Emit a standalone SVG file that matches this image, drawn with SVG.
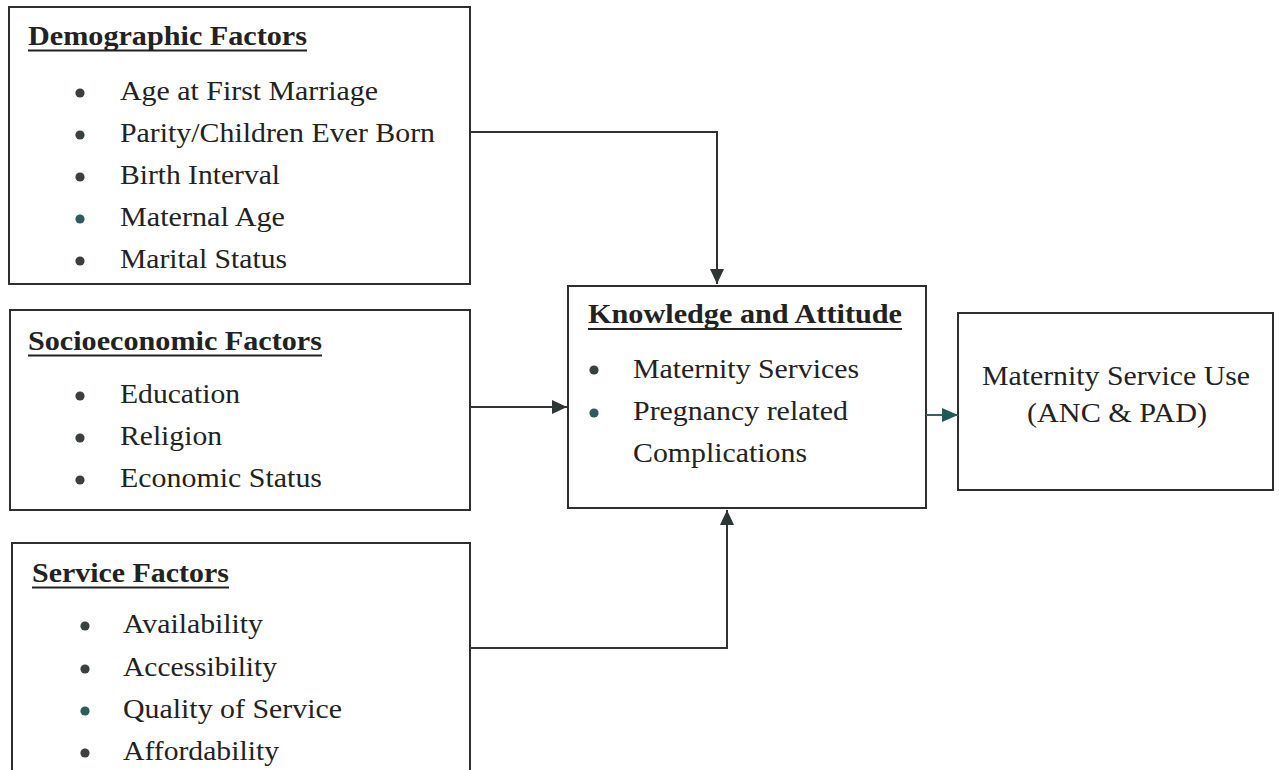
<svg xmlns="http://www.w3.org/2000/svg" width="1279" height="770" viewBox="0 0 1279 770">
<style>
.box{fill:#fff;stroke:#2e2e2e;stroke-width:2}
.t{font-family:"Liberation Serif","Times New Roman",serif;font-size:27px;fill:#222}
.h{font-family:"Liberation Serif","Times New Roman",serif;font-size:27px;font-weight:bold;fill:#222}
.ul{stroke:#222;stroke-width:2}
.b{fill:#3a3f40}
.bt{fill:#2c5c5c}
.c{fill:none;stroke:#333;stroke-width:2}
.ct{fill:none;stroke:#2c6363;stroke-width:2}
</style>
<defs>
<marker id="ah" markerUnits="userSpaceOnUse" markerWidth="15" markerHeight="14" viewBox="0 0 15 14" refX="15" refY="7" orient="auto">
<path d="M0,0 L15,7 L0,14 z" fill="#2e3535"/>
</marker>
<marker id="aht" markerUnits="userSpaceOnUse" markerWidth="16" markerHeight="14" viewBox="0 0 16 14" refX="16" refY="7" orient="auto">
<path d="M0,0 L16,7 L0,14 z" fill="#1f5a5a"/>
</marker>
</defs>
<rect width="1279" height="770" fill="#fff"/>

<g id="demographic">
<rect class="box" x="9" y="7" width="461" height="277"/>
<text class="h" x="28" y="45" textLength="279" lengthAdjust="spacingAndGlyphs">Demographic Factors</text>
<line class="ul" x1="28" y1="50.5" x2="307" y2="50.5"/>
<circle class="b" cx="80" cy="93" r="4.6"/>
<text class="t" x="120" y="100" textLength="258" lengthAdjust="spacingAndGlyphs">Age at First Marriage</text>
<circle class="b" cx="80" cy="135" r="4.6"/>
<text class="t" x="120" y="142" textLength="315" lengthAdjust="spacingAndGlyphs">Parity/Children Ever Born</text>
<circle class="b" cx="80" cy="177" r="4.6"/>
<text class="t" x="120" y="184" textLength="160" lengthAdjust="spacingAndGlyphs">Birth Interval</text>
<circle class="bt" cx="80" cy="219" r="4.6"/>
<text class="t" x="120" y="226" textLength="165" lengthAdjust="spacingAndGlyphs">Maternal Age</text>
<circle class="b" cx="80" cy="261" r="4.6"/>
<text class="t" x="120" y="268" textLength="167" lengthAdjust="spacingAndGlyphs">Marital Status</text>
</g>

<g id="socioeconomic">
<rect class="box" x="10" y="310" width="460" height="200"/>
<text class="h" x="28" y="350" textLength="294" lengthAdjust="spacingAndGlyphs">Socioeconomic Factors</text>
<line class="ul" x1="28" y1="355.5" x2="322" y2="355.5"/>
<circle class="b" cx="80" cy="396" r="4.6"/>
<text class="t" x="120" y="403" textLength="120" lengthAdjust="spacingAndGlyphs">Education</text>
<circle class="b" cx="80" cy="438" r="4.6"/>
<text class="t" x="120" y="445" textLength="102" lengthAdjust="spacingAndGlyphs">Religion</text>
<circle class="b" cx="80" cy="480" r="4.6"/>
<text class="t" x="120" y="487" textLength="202" lengthAdjust="spacingAndGlyphs">Economic Status</text>
</g>

<g id="service">
<rect class="box" x="12" y="543" width="458" height="240"/>
<text class="h" x="32" y="582" textLength="197" lengthAdjust="spacingAndGlyphs">Service Factors</text>
<line class="ul" x1="32" y1="587.5" x2="229" y2="587.5"/>
<circle class="b" cx="85" cy="626" r="4.6"/>
<text class="t" x="123" y="633" textLength="140" lengthAdjust="spacingAndGlyphs">Availability</text>
<circle class="b" cx="85" cy="669" r="4.6"/>
<text class="t" x="123" y="676" textLength="154" lengthAdjust="spacingAndGlyphs">Accessibility</text>
<circle class="bt" cx="85" cy="711" r="4.6"/>
<text class="t" x="123" y="718" textLength="219" lengthAdjust="spacingAndGlyphs">Quality of Service</text>
<circle class="b" cx="85" cy="753" r="4.6"/>
<text class="t" x="123" y="760" textLength="156" lengthAdjust="spacingAndGlyphs">Affordability</text>
</g>

<g id="knowledge">
<rect class="box" x="568" y="286" width="358" height="222"/>
<text class="h" x="588" y="323" textLength="314" lengthAdjust="spacingAndGlyphs">Knowledge and Attitude</text>
<line class="ul" x1="588" y1="329" x2="902" y2="329"/>
<circle class="b" cx="594" cy="370" r="4.6"/>
<text class="t" x="633" y="378" textLength="226" lengthAdjust="spacingAndGlyphs">Maternity Services</text>
<circle class="bt" cx="594" cy="413" r="4.6"/>
<text class="t" x="633" y="420" textLength="215" lengthAdjust="spacingAndGlyphs">Pregnancy related</text>
<text class="t" x="633" y="462" textLength="174" lengthAdjust="spacingAndGlyphs">Complications</text>
</g>

<g id="service-use">
<rect class="box" x="958" y="313" width="315" height="177"/>
<text class="t" x="982" y="385" font-size="25" textLength="268" lengthAdjust="spacingAndGlyphs">Maternity Service Use</text>
<text class="t" x="1027" y="422" font-size="25" textLength="180" lengthAdjust="spacingAndGlyphs">(ANC &amp; PAD)</text>
</g>

<g id="connectors">
<path class="c" d="M470,132 H717 V284" marker-end="url(#ah)"/>
<path class="c" d="M470,407 H567" marker-end="url(#ah)"/>
<path class="c" d="M470,648 H727 V510" marker-end="url(#ah)"/>
<path class="ct" d="M926,415 H958" marker-end="url(#aht)"/>
</g>
</svg>
